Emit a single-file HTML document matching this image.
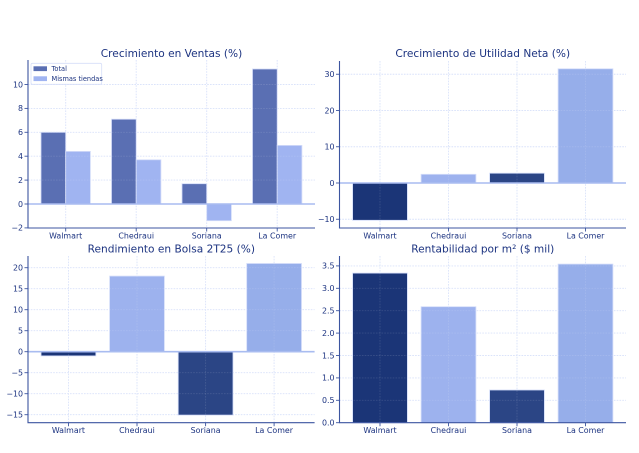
<!DOCTYPE html>
<html><head><meta charset="utf-8"><style>
html,body{margin:0;padding:0;background:#fff;}
svg{display:block;}
text{font-family:"DejaVu Sans","Liberation Sans",sans-serif;fill:#1c3380;}
.t{font-size:10.6px;fill:#1c3380;}
.tk{font-size:7.9px;}
.g{stroke:#d6e0fa;stroke-width:0.9;stroke-dasharray:1.6,1.2;fill:none;}
.go{stroke:#ffffff;stroke-opacity:0.12;stroke-width:0.9;stroke-dasharray:1.6,1.2;fill:none;}
.sp{stroke:#3c55a0;stroke-width:1.1;fill:none;}
.tm{stroke:#3c55a0;stroke-width:0.9;}
.z{stroke:#a9bcf0;stroke-width:1.6;}
.b{stroke:#d4ddf9;stroke-width:0.8;}
</style></head><body>
<svg width="639" height="453" viewBox="0 0 639 453" xmlns="http://www.w3.org/2000/svg">
<rect width="639" height="453" fill="#fff"/>

<!-- Chart 1 -->
<text class="t" x="171.5" y="57" text-anchor="middle">Crecimiento en Ventas (%)</text>
<g class="g">
<line x1="28" x2="315" y1="227.9" y2="227.9"/><line x1="28" x2="315" y1="180.1" y2="180.1"/>
<line x1="28" x2="315" y1="156.2" y2="156.2"/><line x1="28" x2="315" y1="132.3" y2="132.3"/>
<line x1="28" x2="315" y1="108.4" y2="108.4"/><line x1="28" x2="315" y1="84.5" y2="84.5"/>
<line x1="65.7" x2="65.7" y1="60" y2="228"/><line x1="136.2" x2="136.2" y1="60" y2="228"/>
<line x1="206.7" x2="206.7" y1="60" y2="228"/><line x1="277.2" x2="277.2" y1="60" y2="228"/>
</g>
<g>
<rect class="b" x="41" y="132.3" width="24.7" height="71.7" fill="#5a6fb3"/>
<rect class="b" x="65.7" y="151.4" width="24.7" height="52.6" fill="#a0b4f1"/>
<rect class="b" x="111.5" y="119.2" width="24.7" height="84.8" fill="#5a6fb3"/>
<rect class="b" x="136.2" y="159.8" width="24.7" height="44.2" fill="#a0b4f1"/>
<rect class="b" x="182" y="183.7" width="24.7" height="20.3" fill="#5a6fb3"/>
<rect class="b" x="206.7" y="204" width="24.7" height="16.7" fill="#a0b4f1"/>
<rect class="b" x="252.5" y="69" width="24.7" height="135" fill="#5a6fb3"/>
<rect class="b" x="277.2" y="145.4" width="24.7" height="58.6" fill="#a0b4f1"/>
</g>
<g class="go">
<line x1="28" x2="315" y1="180.1" y2="180.1"/><line x1="28" x2="315" y1="156.2" y2="156.2"/>
<line x1="28" x2="315" y1="132.3" y2="132.3"/><line x1="28" x2="315" y1="108.4" y2="108.4"/>
<line x1="28" x2="315" y1="84.5" y2="84.5"/>
<line x1="65.7" x2="65.7" y1="60" y2="228"/><line x1="136.2" x2="136.2" y1="60" y2="228"/>
<line x1="206.7" x2="206.7" y1="60" y2="228"/><line x1="277.2" x2="277.2" y1="60" y2="228"/>
</g>
<line class="z" x1="28" x2="315" y1="204" y2="204"/>
<path class="sp" d="M28,60 V228 H315"/>
<g class="tm">
<line x1="24.5" x2="28" y1="227.9" y2="227.9"/><line x1="24.5" x2="28" y1="204" y2="204"/>
<line x1="24.5" x2="28" y1="180.1" y2="180.1"/><line x1="24.5" x2="28" y1="156.2" y2="156.2"/>
<line x1="24.5" x2="28" y1="132.3" y2="132.3"/><line x1="24.5" x2="28" y1="108.4" y2="108.4"/>
<line x1="24.5" x2="28" y1="84.5" y2="84.5"/>
<line x1="65.7" x2="65.7" y1="228" y2="231.5"/><line x1="136.2" x2="136.2" y1="228" y2="231.5"/>
<line x1="206.7" x2="206.7" y1="228" y2="231.5"/><line x1="277.2" x2="277.2" y1="228" y2="231.5"/>
</g>
<g class="tk" text-anchor="end">
<text x="23" y="230.7">−2</text><text x="23" y="206.8">0</text><text x="23" y="182.9">2</text>
<text x="23" y="159">4</text><text x="23" y="135.1">6</text><text x="23" y="111.2">8</text>
<text x="23" y="87.3">10</text>
</g>
<g class="tk" text-anchor="middle">
<text x="65.7" y="238.3">Walmart</text><text x="136.2" y="238.3">Chedraui</text>
<text x="206.7" y="238.3">Soriana</text><text x="277.2" y="238.3">La Comer</text>
</g>
<rect x="31" y="63.3" width="70.7" height="21" fill="#fff" fill-opacity="0.9" stroke="#d6def8" stroke-width="0.8" rx="1.5"/>
<rect x="33.5" y="66.3" width="13.5" height="4.8" fill="#5a6fb3"/>
<rect x="33.5" y="76.3" width="13.5" height="4.8" fill="#a0b4f1"/>
<text x="51.5" y="71" style="font-size:6.6px">Total</text>
<text x="51.5" y="81" style="font-size:6.6px">Mismas tiendas</text>

<!-- Chart 2 -->
<text class="t" x="482.75" y="57" text-anchor="middle">Crecimiento de Utilidad Neta (%)</text>
<g class="g">
<line x1="339.5" x2="626" y1="219.25" y2="219.25"/><line x1="339.5" x2="626" y1="146.75" y2="146.75"/>
<line x1="339.5" x2="626" y1="110.5" y2="110.5"/><line x1="339.5" x2="626" y1="74.25" y2="74.25"/>
<line x1="380" x2="380" y1="61" y2="228"/><line x1="448.5" x2="448.5" y1="61" y2="228"/>
<line x1="517" x2="517" y1="61" y2="228"/><line x1="585.5" x2="585.5" y1="61" y2="228"/>
</g>
<rect class="b" x="352.6" y="183" width="54.8" height="37.3" fill="#1b3577"/>
<rect class="b" x="421.1" y="174.3" width="54.8" height="8.7" fill="#9db2ee"/>
<rect class="b" x="489.6" y="173.2" width="54.8" height="9.8" fill="#2b4585"/>
<rect class="b" x="558.1" y="68.8" width="54.8" height="114.2" fill="#96aeea"/>
<g class="go">
<line x1="339.5" x2="626" y1="146.75" y2="146.75"/><line x1="339.5" x2="626" y1="110.5" y2="110.5"/>
<line x1="339.5" x2="626" y1="74.25" y2="74.25"/>
<line x1="380" x2="380" y1="61" y2="228"/><line x1="448.5" x2="448.5" y1="61" y2="228"/>
<line x1="517" x2="517" y1="61" y2="228"/><line x1="585.5" x2="585.5" y1="61" y2="228"/>
</g>
<line class="z" x1="339.5" x2="626" y1="183" y2="183"/>
<path class="sp" d="M339.5,61 V228 H626"/>
<g class="tm">
<line x1="336" x2="339.5" y1="219.25" y2="219.25"/><line x1="336" x2="339.5" y1="183" y2="183"/>
<line x1="336" x2="339.5" y1="146.75" y2="146.75"/><line x1="336" x2="339.5" y1="110.5" y2="110.5"/>
<line x1="336" x2="339.5" y1="74.25" y2="74.25"/>
<line x1="380" x2="380" y1="228" y2="231.5"/><line x1="448.5" x2="448.5" y1="228" y2="231.5"/>
<line x1="517" x2="517" y1="228" y2="231.5"/><line x1="585.5" x2="585.5" y1="228" y2="231.5"/>
</g>
<g class="tk" text-anchor="end">
<text x="334.5" y="222.1">−10</text><text x="334.5" y="185.8">0</text><text x="334.5" y="149.6">10</text>
<text x="334.5" y="113.3">20</text><text x="334.5" y="77.1">30</text>
</g>
<g class="tk" text-anchor="middle">
<text x="380" y="238.3">Walmart</text><text x="448.5" y="238.3">Chedraui</text>
<text x="517" y="238.3">Soriana</text><text x="585.5" y="238.3">La Comer</text>
</g>

<!-- Chart 3 -->
<text class="t" x="171.3" y="252.5" text-anchor="middle">Rendimiento en Bolsa 2T25 (%)</text>
<g class="g">
<line x1="28" x2="314.6" y1="414.7" y2="414.7"/><line x1="28" x2="314.6" y1="393.7" y2="393.7"/>
<line x1="28" x2="314.6" y1="372.7" y2="372.7"/><line x1="28" x2="314.6" y1="330.7" y2="330.7"/>
<line x1="28" x2="314.6" y1="309.7" y2="309.7"/><line x1="28" x2="314.6" y1="288.7" y2="288.7"/>
<line x1="28" x2="314.6" y1="267.7" y2="267.7"/>
<line x1="68.45" x2="68.45" y1="256" y2="422.7"/><line x1="137" x2="137" y1="256" y2="422.7"/>
<line x1="205.6" x2="205.6" y1="256" y2="422.7"/><line x1="274.1" x2="274.1" y1="256" y2="422.7"/>
</g>
<rect class="b" x="41.05" y="351.7" width="54.8" height="4.2" fill="#1b3577"/>
<rect class="b" x="109.6" y="276.1" width="54.8" height="75.6" fill="#9db2ee"/>
<rect class="b" x="178.2" y="351.7" width="54.8" height="63.4" fill="#2b4585"/>
<rect class="b" x="246.7" y="263.5" width="54.8" height="88.2" fill="#96aeea"/>
<g class="go">
<line x1="28" x2="314.6" y1="393.7" y2="393.7"/><line x1="28" x2="314.6" y1="372.7" y2="372.7"/>
<line x1="28" x2="314.6" y1="330.7" y2="330.7"/><line x1="28" x2="314.6" y1="309.7" y2="309.7"/>
<line x1="28" x2="314.6" y1="288.7" y2="288.7"/><line x1="28" x2="314.6" y1="267.7" y2="267.7"/>
<line x1="68.45" x2="68.45" y1="256" y2="422.7"/><line x1="137" x2="137" y1="256" y2="422.7"/>
<line x1="205.6" x2="205.6" y1="256" y2="422.7"/><line x1="274.1" x2="274.1" y1="256" y2="422.7"/>
</g>
<line class="z" x1="28" x2="314.6" y1="351.7" y2="351.7"/>
<path class="sp" d="M28,256 V422.7 H314.6"/>
<g class="tm">
<line x1="24.5" x2="28" y1="414.7" y2="414.7"/><line x1="24.5" x2="28" y1="393.7" y2="393.7"/>
<line x1="24.5" x2="28" y1="372.7" y2="372.7"/><line x1="24.5" x2="28" y1="351.7" y2="351.7"/>
<line x1="24.5" x2="28" y1="330.7" y2="330.7"/><line x1="24.5" x2="28" y1="309.7" y2="309.7"/>
<line x1="24.5" x2="28" y1="288.7" y2="288.7"/><line x1="24.5" x2="28" y1="267.7" y2="267.7"/>
<line x1="68.45" x2="68.45" y1="422.7" y2="426.2"/><line x1="137" x2="137" y1="422.7" y2="426.2"/>
<line x1="205.6" x2="205.6" y1="422.7" y2="426.2"/><line x1="274.1" x2="274.1" y1="422.7" y2="426.2"/>
</g>
<g class="tk" text-anchor="end">
<text x="23" y="417.5">−15</text><text x="23" y="396.5">−10</text><text x="23" y="375.5">−5</text>
<text x="23" y="354.5">0</text><text x="23" y="333.5">5</text><text x="23" y="312.5">10</text>
<text x="23" y="291.5">15</text><text x="23" y="270.5">20</text>
</g>
<g class="tk" text-anchor="middle">
<text x="68.45" y="433">Walmart</text><text x="137" y="433">Chedraui</text>
<text x="205.6" y="433">Soriana</text><text x="274.1" y="433">La Comer</text>
</g>

<!-- Chart 4 -->
<text class="t" x="482.75" y="252.5" text-anchor="middle">Rentabilidad por m² ($ mil)</text>
<g class="g">
<line x1="339.5" x2="626" y1="400.3" y2="400.3"/><line x1="339.5" x2="626" y1="377.9" y2="377.9"/>
<line x1="339.5" x2="626" y1="355.5" y2="355.5"/><line x1="339.5" x2="626" y1="333.1" y2="333.1"/>
<line x1="339.5" x2="626" y1="310.7" y2="310.7"/><line x1="339.5" x2="626" y1="288.3" y2="288.3"/>
<line x1="339.5" x2="626" y1="265.9" y2="265.9"/>
<line x1="380" x2="380" y1="256" y2="422.7"/><line x1="448.5" x2="448.5" y1="256" y2="422.7"/>
<line x1="517" x2="517" y1="256" y2="422.7"/><line x1="585.5" x2="585.5" y1="256" y2="422.7"/>
</g>
<rect class="b" x="352.6" y="273.1" width="54.8" height="149.6" fill="#1b3577"/>
<rect class="b" x="421.1" y="306.7" width="54.8" height="116" fill="#9db2ee"/>
<rect class="b" x="489.6" y="390" width="54.8" height="32.7" fill="#2b4585"/>
<rect class="b" x="558.1" y="264.1" width="54.8" height="158.6" fill="#96aeea"/>
<g class="go">
<line x1="339.5" x2="626" y1="400.3" y2="400.3"/><line x1="339.5" x2="626" y1="377.9" y2="377.9"/>
<line x1="339.5" x2="626" y1="355.5" y2="355.5"/><line x1="339.5" x2="626" y1="333.1" y2="333.1"/>
<line x1="339.5" x2="626" y1="310.7" y2="310.7"/><line x1="339.5" x2="626" y1="288.3" y2="288.3"/>
<line x1="339.5" x2="626" y1="265.9" y2="265.9"/>
<line x1="380" x2="380" y1="256" y2="422.7"/><line x1="448.5" x2="448.5" y1="256" y2="422.7"/>
<line x1="517" x2="517" y1="256" y2="422.7"/><line x1="585.5" x2="585.5" y1="256" y2="422.7"/>
</g>
<path class="sp" d="M339.5,256 V422.7 H626"/>
<g class="tm">
<line x1="336" x2="339.5" y1="422.7" y2="422.7"/><line x1="336" x2="339.5" y1="400.3" y2="400.3"/>
<line x1="336" x2="339.5" y1="377.9" y2="377.9"/><line x1="336" x2="339.5" y1="355.5" y2="355.5"/>
<line x1="336" x2="339.5" y1="333.1" y2="333.1"/><line x1="336" x2="339.5" y1="310.7" y2="310.7"/>
<line x1="336" x2="339.5" y1="288.3" y2="288.3"/><line x1="336" x2="339.5" y1="265.9" y2="265.9"/>
<line x1="380" x2="380" y1="422.7" y2="426.2"/><line x1="448.5" x2="448.5" y1="422.7" y2="426.2"/>
<line x1="517" x2="517" y1="422.7" y2="426.2"/><line x1="585.5" x2="585.5" y1="422.7" y2="426.2"/>
</g>
<g class="tk" text-anchor="end">
<text x="334.5" y="425.5">0.0</text><text x="334.5" y="403.1">0.5</text><text x="334.5" y="380.7">1.0</text>
<text x="334.5" y="358.3">1.5</text><text x="334.5" y="335.9">2.0</text><text x="334.5" y="313.5">2.5</text>
<text x="334.5" y="291.1">3.0</text><text x="334.5" y="268.7">3.5</text>
</g>
<g class="tk" text-anchor="middle">
<text x="380" y="433">Walmart</text><text x="448.5" y="433">Chedraui</text>
<text x="517" y="433">Soriana</text><text x="585.5" y="433">La Comer</text>
</g>
</svg>
</body></html>
